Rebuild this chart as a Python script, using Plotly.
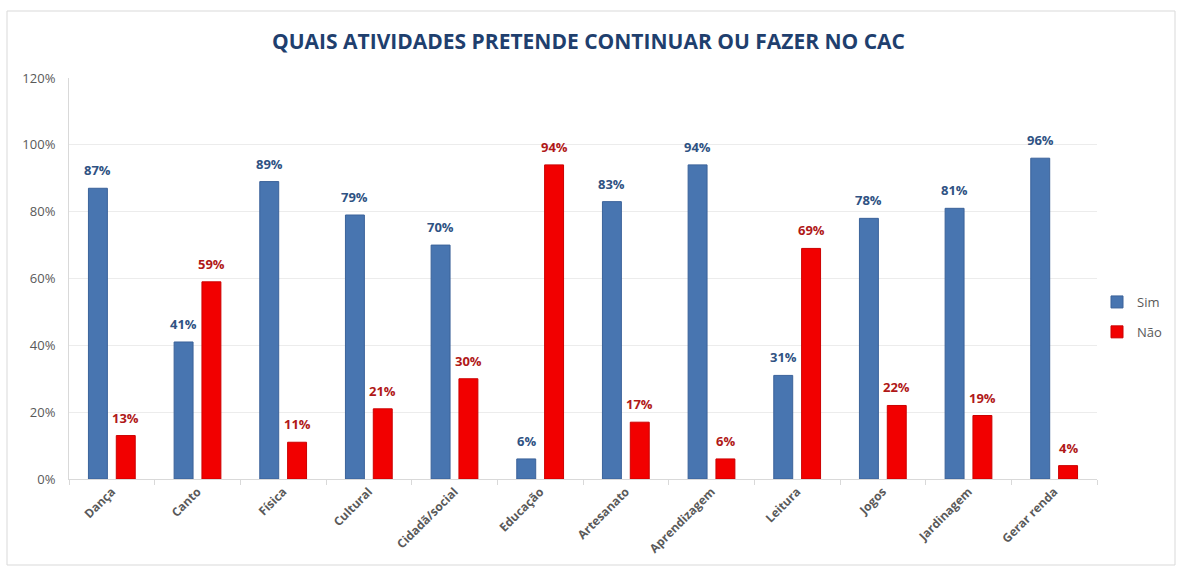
import plotly.graph_objects as go

categories = ["Dança", "Canto", "Física", "Cultural", "Cidadã/social", "Educação",
              "Artesanato", "Aprendizagem", "Leitura", "Jogos", "Jardinagem", "Gerar renda"]
sim = [0.87, 0.41, 0.89, 0.79, 0.70, 0.06, 0.83, 0.94, 0.31, 0.78, 0.81, 0.96]
nao = [0.13, 0.59, 0.11, 0.21, 0.30, 0.94, 0.17, 0.06, 0.69, 0.22, 0.19, 0.04]
y_ticks = [0, 0.2, 0.4, 0.6, 0.8, 1.0, 1.2]

W, H = 1177, 570
L, R, T, B = 69, 80, 78, 91
pw, ph = W - L - R, H - T - B
BARGAP, GROUPGAP = 0.35, 0.32
slot = pw / len(categories) * (1 - BARGAP) / 2  # width of one bar slot in px

fig = go.Figure()
fig.add_trace(go.Bar(
    name="Sim", x=categories, y=sim, legendgroup="sim",
    marker=dict(color="#4875b0", line=dict(color="#3b629a", width=1)),
))
fig.add_trace(go.Bar(
    name="Não", x=categories, y=nao, legendgroup="nao",
    marker=dict(color="#f20000", line=dict(color="#cc0000", width=1)),
))

# value labels above each bar
for vals, sign, color in ((sim, -1, "#2f5283"), (nao, 1, "#b01818")):
    for c, v in zip(categories, vals):
        fig.add_annotation(x=c, y=v, xref="x", yref="y", text=f"{v:.0%}",
                           showarrow=False, xanchor="center", yanchor="bottom",
                           xshift=sign * slot / 2, yshift=7,
                           font=dict(family="Open Sans", size=13, color=color, weight="bold"))

# outer chart border
fig.add_shape(type="rect", xref="paper", yref="paper",
              x0=(7 - L) / pw, x1=(1175 - L) / pw,
              y0=(H - B - 565) / ph, y1=(H - B - 11) / ph,
              line=dict(color="#d9d9d9", width=1), fillcolor="rgba(0,0,0,0)", layer="below")

fig.update_layout(
    width=W, height=H,
    margin=dict(l=L, r=R, t=T, b=B, autoexpand=False),
    paper_bgcolor="white", plot_bgcolor="white",
    barmode="group", bargap=BARGAP, bargroupgap=GROUPGAP,
    title=dict(text="QUAIS ATIVIDADES PRETENDE CONTINUAR OU FAZER NO CAC",
               x=0.5, xanchor="center", y=1 - 42 / H, yanchor="middle",
               font=dict(family="Open Sans", size=21, color="#1f3f6e", weight="bold")),
    font=dict(family="Open Sans", color="#595959"),
    legend=dict(xref="container", yref="container", x=1097 / W, xanchor="left",
                y=1 - 317 / H, yanchor="middle",
                font=dict(size=13, color="#595959"), tracegroupgap=10,
                bgcolor="rgba(0,0,0,0)"),
    xaxis=dict(showline=True, linecolor="#d9d9d9", linewidth=1,
               ticks="outside", tickson="boundaries", ticklen=5, tickcolor="#d9d9d9",
               tickangle=-45, tickfont=dict(size=12, color="#595959", weight="bold")),
    yaxis=dict(range=[0, 1.2], tickvals=y_ticks, tickformat=".0%",
               showgrid=True, gridcolor="#ececec", gridwidth=1,
               showline=True, linecolor="#d9d9d9", zeroline=False,
               ticklabelstandoff=10, tickfont=dict(size=13, color="#595959")),
)

fig.write_html("out.html")
